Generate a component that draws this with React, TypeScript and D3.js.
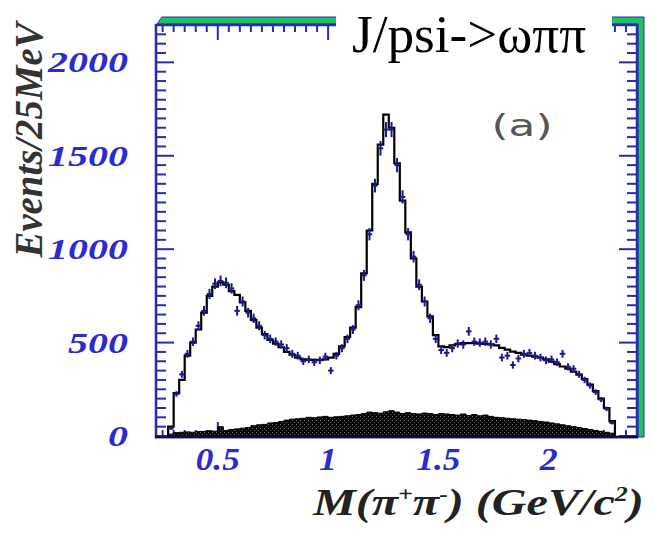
import React from "react";
import * as d3 from "d3";

// Bin lower edges start at 0.275 GeV, width 0.025 GeV
const binStart = 0.275;
const binWidth = 0.025;
const fitValues = [50, 230, 300, 430, 500, 570, 660, 750, 800, 822, 810, 775, 755, 715, 670, 620, 580, 545, 515, 495, 475, 450, 435, 420, 410, 408, 408, 408, 410, 420, 440, 480, 530, 580, 690, 870, 1100, 1350, 1560, 1720, 1650, 1460, 1260, 1090, 950, 800, 720, 640, 540, 480, 476, 485, 492, 497, 497, 497, 495, 493, 490, 485, 472, 462, 452, 445, 435, 430, 425, 420, 410, 398, 385, 372, 360, 345, 328, 305, 275, 240, 200, 150, 80];
const dataValues = [40, 225, 330, 440, 505, 590, 670, 760, 815, 830, 820, 790, 670, 720, 660, 630, 590, 540, 520, 505, 490, 470, 440, 430, 400, 410, 395, 405, 425, 350, 430, 470, 520, 570, 700, 860, 1080, 1340, 1540, 1640, 1640, 1450, 1280, 1080, 960, 810, 720, 630, 520, 460, 445, 470, 495, 490, 560, 505, 500, 505, 490, 520, 420, 430, 380, 415, 440, 445, 430, 420, 405, 410, 395, 440, 370, 360, 330, 300, 270, 235, 195, 145, 70];
const bgValues = [10, 18, 20, 22, 20, 24, 25, 28, 26, 50, 30, 35, 38, 42, 45, 55, 60, 62, 70, 72, 78, 85, 90, 92, 95, 100, 98, 102, 105, 100, 103, 105, 108, 112, 115, 120, 128, 125, 122, 130, 135, 128, 120, 125, 120, 118, 123, 120, 115, 120, 118, 115, 112, 118, 110, 115, 108, 112, 105, 100, 98, 95, 92, 90, 88, 85, 82, 78, 75, 70, 65, 60, 55, 50, 45, 40, 35, 30, 25, 20, 15];

const xTickLabels = ["0.5", "1", "1.5", "2"];
const yTickLabels = ["0", "500", "1000", "1500", "2000"];

const W = 653;
const H = 534;
const SERIF = "'Liberation Serif'";

export default function App() {
  const x = d3.scaleLinear().domain([0.22, 2.4]).range([156, 637]);
  const y = d3.scaleLinear().domain([0, 2200]).range([436, 25]);

  const edges = fitValues.map((_, i) => binStart + i * binWidth);
  const lastEdge = binStart + fitValues.length * binWidth;

  const stepPts: [number, number][] = [[edges[0], 0]];
  fitValues.forEach((v, i) => stepPts.push([edges[i], v]));
  stepPts.push([lastEdge, fitValues[fitValues.length - 1]]);
  stepPts.push([lastEdge, 0]);
  const line = d3
    .line<[number, number]>()
    .x((d) => x(d[0]))
    .y((d) => y(d[1]))
    .curve(d3.curveStepAfter);

  const bgPts: [number, number][] = bgValues.map((v, i) => [edges[i], v]);
  bgPts.push([lastEdge, bgValues[bgValues.length - 1]]);
  const area = d3
    .area<[number, number]>()
    .x((d) => x(d[0]))
    .y0(y(0))
    .y1((d) => y(d[1]))
    .curve(d3.curveStepAfter);

  const xMinor = d3.range(0.25, 2.4, 0.05).map((v) => Math.round(v * 100) / 100);
  const yMinor = d3.range(0, 2201, 50);

  const blue = "#2a2ab4";
  const labelBlue = "#2b2bd0";

  return (
    <svg width={W} height={H} style={{ position: "absolute", left: 0, top: 0, background: "#fff" }}>
      <defs>
        <pattern id="dith" width="4" height="4" patternUnits="userSpaceOnUse">
          <rect width="4" height="4" fill="#050505" />
          <rect x="0" y="0" width="1" height="1" fill="#777" />
          <rect x="2" y="2" width="1" height="1" fill="#555" />
        </pattern>
      </defs>

      {/* green 3D frame */}
      <path d={`M157,24 L162,17 L644,17 L644,437 L638,437 L638,24 Z`} fill="#22c060" stroke={blue} strokeWidth={1} />

      {/* ticks */}
      {xMinor.map((t) => {
        const major = Math.abs(t * 2 - Math.round(t * 2)) < 1e-6;
        return (
          <g key={"xt" + t}>
            <line x1={x(t)} x2={x(t)} y1={25} y2={25 + (major ? 15 : 7)} stroke={blue} strokeWidth={2} />
            <line x1={x(t)} x2={x(t)} y1={437} y2={437 - (major ? 15 : 7)} stroke={blue} strokeWidth={2} />
          </g>
        );
      })}
      {yMinor.map((t) => {
        const major = t % 500 === 0;
        return (
          <g key={"yt" + t}>
            <line x1={156} x2={156 + (major ? 18 : 10)} y1={y(t)} y2={y(t)} stroke={blue} strokeWidth={2} />
            <line x1={637} x2={637 - (major ? 18 : 10)} y1={y(t)} y2={y(t)} stroke={blue} strokeWidth={2} />
          </g>
        );
      })}

      {/* background histogram */}
      <path d={area(bgPts) || ""} fill="url(#dith)" stroke="#000" strokeWidth={1} />

      {/* fit histogram */}
      <path d={line(stepPts) || ""} fill="none" stroke="#000" strokeWidth={2.2} />

      {/* data crosses */}
      {dataValues.map((v, i) => {
        const cx = x(edges[i] + binWidth / 2);
        const cy = y(v);
        const err = Math.sqrt(v);
        return (
          <g key={"d" + i} stroke="#1a1a90" strokeWidth={2}>
            <line x1={x(edges[i])} x2={x(edges[i] + binWidth)} y1={cy} y2={cy} />
            <line x1={cx} x2={cx} y1={y(v + err)} y2={y(Math.max(0, v - err))} />
          </g>
        );
      })}

      {/* frame */}
      <rect x={156} y={25} width={481} height={412} fill="none" stroke={blue} strokeWidth={2.5} />
      <line x1={155} x2={638} y1={437} y2={437} stroke="#101040" strokeWidth={2.5} />

      {/* y tick labels */}
      {yTickLabels.map((l) => (
        <text
          key={"yl" + l}
          x={128}
          y={y(+l) + 10}
          textAnchor="end"
          fontFamily={SERIF}
          fontStyle="italic"
          fontWeight="bold"
          fontSize={29}
          fill={labelBlue}
          textLength={l.length * 20}
          lengthAdjust="spacingAndGlyphs"
        >
          {l}
        </text>
      ))}

      {/* x tick labels */}
      {xTickLabels.map((l) => (
        <text
          key={"xl" + l}
          x={x(+l)}
          y={470}
          textAnchor="middle"
          fontFamily={SERIF}
          fontStyle="italic"
          fontWeight="bold"
          fontSize={32}
          fill={labelBlue}
          textLength={l.length === 1 ? 18 : 44}
          lengthAdjust="spacingAndGlyphs"
        >
          {l}
        </text>
      ))}

      {/* y axis title */}
      <text
        transform="translate(42,140) rotate(-90)"
        textAnchor="middle"
        fontFamily={SERIF}
        fontStyle="italic"
        fontWeight="bold"
        fontSize={39}
        fill="#333"
        textLength={235}
        lengthAdjust="spacingAndGlyphs"
      >
        Events/25MeV
      </text>

      {/* x axis title */}
      <g transform="translate(313,515) scale(1.3,1)">
        <text
          x={0}
          y={0}
          fontFamily={SERIF}
          fontStyle="italic"
          fontWeight="bold"
          fontSize={37}
          fill="#222"
        >
          M(π<tspan fontSize={20} dy={-14}>+</tspan>
          <tspan dy={14}>π</tspan>
          <tspan fontSize={20} dy={-14}>-</tspan>
          <tspan dy={14}>) (GeV/c</tspan>
          <tspan fontSize={20} dy={-14}>2</tspan>
          <tspan dy={14}>)</tspan>
        </text>
      </g>

      {/* (a) */}
      <text
        x={522}
        y={136}
        textAnchor="middle"
        fontFamily="'DejaVu Sans', sans-serif"
        fontSize={30}
        fill="#555"
        textLength={61}
        lengthAdjust="spacingAndGlyphs"
      >
        (a)
      </text>

      {/* title box */}
      <rect x={336} y={0} width={276} height={54} fill="#fff" />
      <text
        x={352}
        y={52}
        fontFamily={SERIF}
        fontSize={52}
        fill="#000"
        textLength={234}
        lengthAdjust="spacingAndGlyphs"
      >
        J/psi-&gt;ωππ
      </text>
    </svg>
  );
}
